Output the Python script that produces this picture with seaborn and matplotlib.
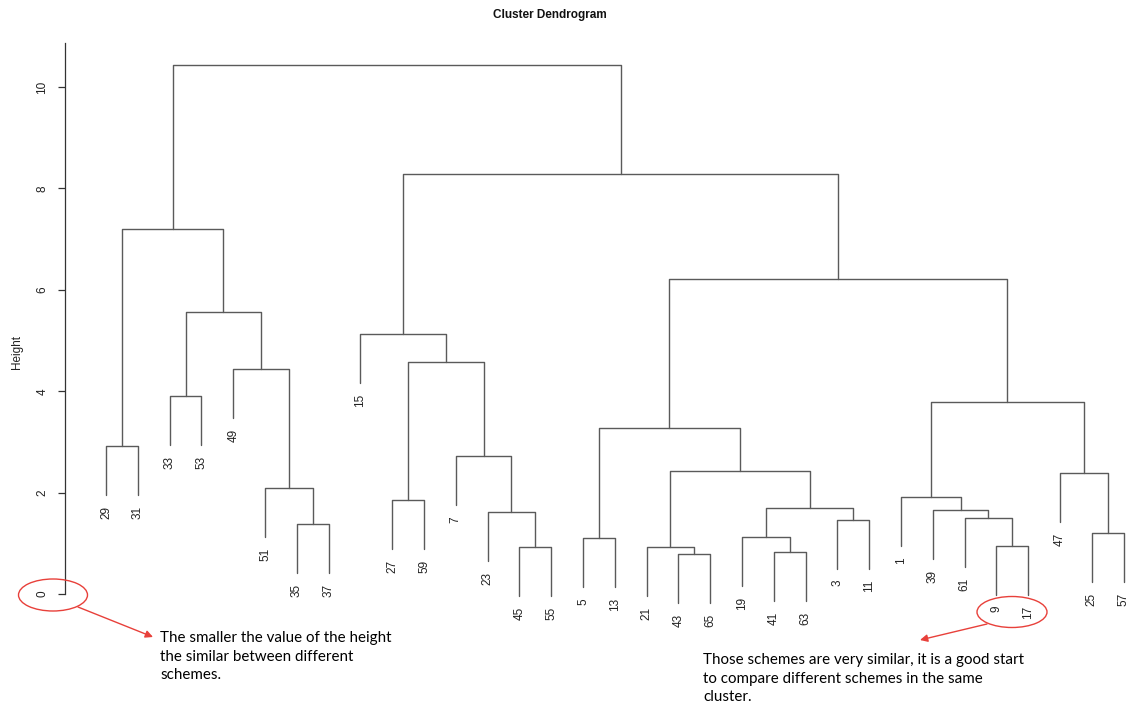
import numpy as np
import pandas as pd
import matplotlib
matplotlib.use("Agg")
import matplotlib.pyplot as plt
import seaborn as sns
from matplotlib.patches import Ellipse

# hclust-style merge table: negative = leaf label, positive = earlier merge step (1-based)
merge_left = [-43, -41, -45, -21, -9, -5, -19, -25, -35, -3, -61, -23, -39, 7, -27, -1,
              -51, -47, 4, -7, -29, 6, 16, -33, -49, 15, -15, 24, 22, 21, 27, 30]
merge_right = [-65, -63, -55, 1, -17, -13, 2, -57, -37, -11, 5, 3, 11, 10, -59, 13,
               9, 8, 14, 12, -31, 19, 18, -53, 17, 20, 26, 25, 23, 28, 29, 31]
merge_height = [0.79, 0.83, 0.93, 0.93, 0.95, 1.10, 1.12, 1.20, 1.38, 1.46, 1.50, 1.62,
                1.66, 1.70, 1.85, 1.91, 2.09, 2.39, 2.43, 2.72, 2.92, 3.27, 3.79, 3.90,
                4.44, 4.58, 5.13, 5.56, 6.21, 7.20, 8.28, 10.43]

y_ticks = [0, 2, 4, 6, 8, 10]
title = "Cluster Dendrogram"
note_left = "The smaller the value of the height\nthe similar between different\nschemes."
note_right = "Those schemes are very similar, it is a good start\nto compare different schemes in the same\ncluster."

hang = 0.1 * (max(merge_height) - min(merge_height))

# walk the tree to get leaf order and node positions
leaf_order = []
node_x = {}


def place(node):
    if node < 0:
        leaf_order.append(-node)
        return len(leaf_order)
    a = place(merge_left[node - 1])
    b = place(merge_right[node - 1])
    node_x[node] = (a + b) / 2
    return node_x[node]


place(len(merge_height))

leaf_x = {lab: i + 1 for i, lab in enumerate(leaf_order)}

rows = []
seg = 0
for k in range(len(merge_height)):
    h = merge_height[k]
    xs = []
    for child in (merge_left[k], merge_right[k]):
        if child < 0:
            cx, ch = leaf_x[-child], h - hang
        else:
            cx, ch = node_x[child], merge_height[child - 1]
        xs.append((cx, ch))
    (x1, h1), (x2, h2) = xs
    for px, py in [(x1, h1), (x1, h), (x2, h), (x2, h2)]:
        rows.append({"x": px, "y": py, "seg": seg})
    seg += 1
segs = pd.DataFrame(rows)

sns.set_theme(style="white")
plt.rcParams["font.family"] = ["Liberation Sans", "DejaVu Sans"]

W, H = 1144, 712
fig = plt.figure(figsize=(W / 100, H / 100), dpi=100)
ax = fig.add_axes([65 / W, 1 - 612 / H, (1140 - 65) / W, (612 - 40) / H])

sns.lineplot(data=segs, x="x", y="y", units="seg", estimator=None, sort=False,
             color="#5a5a5a", linewidth=1.0, ax=ax, legend=False)

px_per_leaf = 31.8
ax.set_xlim(1 - (106 - 65) / px_per_leaf, 1 + (1140 - 106) / px_per_leaf)
ax.set_ylim(-18 / 50.7, (594 - 40) / 50.7)

# leaf labels
for lab, lx in leaf_x.items():
    k = [i for i in range(len(merge_height))
         if merge_left[i] == -lab or merge_right[i] == -lab][0]
    ax.annotate(str(lab), (lx, merge_height[k] - hang), xytext=(0, -8),
                textcoords="offset points", rotation=90, ha="center", va="top",
                fontsize=8.5, color="#222222", annotation_clip=False)

for s in ["top", "right", "bottom"]:
    ax.spines[s].set_visible(False)
ax.spines["left"].set_color("#333333")
ax.spines["left"].set_linewidth(0.9)
ax.spines["left"].set_bounds(0, (594 - 43) / 50.7)
ax.set_xticks([])
ax.set_yticks(y_ticks)
ax.set_yticklabels([str(t) for t in y_ticks], rotation=90, va="center")
ax.tick_params(axis="y", left=True, length=5, width=0.9, color="#333333", pad=7,
               labelsize=8.5, labelcolor="#222222")
ax.set_xlabel("")
ax.set_ylabel("")

fig.text(17 / W, 1 - 352 / H, "Height", rotation=90, ha="center", va="center",
         fontsize=8.5, color="#222222")
fig.text(550 / W, 1 - 15 / H, title, ha="center", va="center", fontsize=8.5,
         fontweight="bold", color="#111111")

# annotation overlay in pixel coordinates
ov = fig.add_axes([0, 0, 1, 1], facecolor="none")
ov.set_xlim(0, W)
ov.set_ylim(H, 0)
ov.axis("off")
red = "#e8403a"
ov.add_patch(Ellipse((53, 595), 69, 32, fill=False, edgecolor=red, lw=1.0))
ov.add_patch(Ellipse((1012, 612), 70, 31, fill=False, edgecolor=red, lw=1.0))
arrow = dict(arrowstyle="-|>", color=red, lw=1.0, mutation_scale=11, shrinkA=0, shrinkB=0)
ov.annotate("", xy=(153, 637), xytext=(78, 607), arrowprops=arrow)
ov.annotate("", xy=(920, 640), xytext=(987, 624), arrowprops=arrow)

note_font = ["Lato", "DejaVu Sans"]
ov.text(160, 631, note_left, ha="left", va="top", fontsize=10.9, linespacing=1.42,
        color="#000000", family=note_font)
ov.text(703, 653, note_right, ha="left", va="top", fontsize=10.9, linespacing=1.42,
        color="#000000", family=note_font)

fig.savefig("out.png", dpi=100)
